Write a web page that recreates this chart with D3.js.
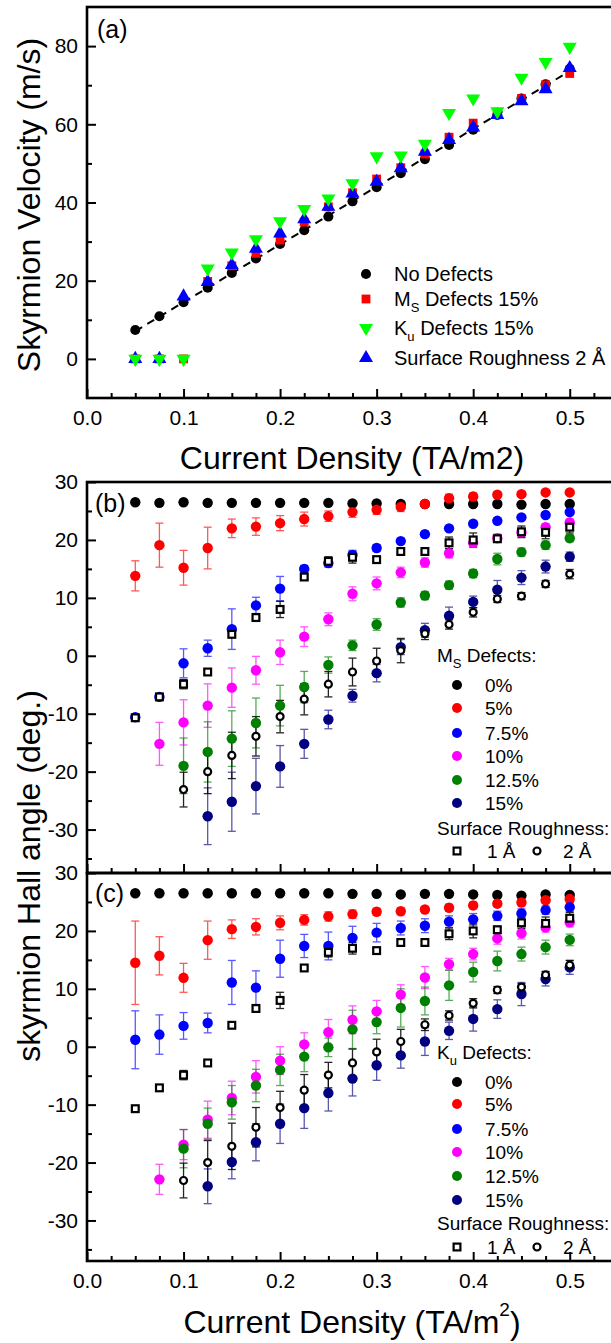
<!DOCTYPE html>
<html><head><meta charset="utf-8">
<script src="https://cdn.jsdelivr.net/npm/d3@7"></script>
<style>
body{margin:0;background:#fff;}
svg{display:block;}
text{font-family: Arial, "Liberation Sans", sans-serif; fill:#000;}
</style>
</head><body>
<svg id="chart" width="611" height="1343"></svg>
<script>
// ---------------- DATA ----------------
const currentDensity = [0.05,0.075,0.1,0.125,0.15,0.175,0.2,0.225,0.25,0.275,0.3,0.325,0.35,0.375,0.4,0.425,0.45,0.475,0.5];

// Panel (a): skyrmion velocity (m/s)
const velNoDefects = [7.4,10.9,14.5,18.2,22.0,25.7,29.4,32.9,36.4,40.3,43.9,47.5,51.1,54.7,58.6,62.4,66.6,70.2,74.2];
const velMsDefects = [0,0,0,19.8,23.8,27.0,30.4,35.0,38.9,42.5,46.0,48.9,52.4,56.7,60.3,62.7,66.6,70.1,73.0];
const velKuDefects = [0,0,0,23.1,27.2,30.6,35.2,38.3,41.0,44.9,51.8,52.0,55.0,62.9,66.6,63.3,71.9,75.9,79.8];
const velRough2A  = [0,0,16.0,19.7,24.0,28.2,32.1,35.7,38.9,42.3,45.3,48.8,53.0,56.0,59.2,62.4,65.9,69.0,74.4];
const fitCurrent = [0.05,0.5];
const fitVelocity = [7.1,73.6];

// Panel (b): Hall angle (deg.) vs Ms defects
const bMs0   = [26.5,26.4,26.5,26.4,26.4,26.4,26.4,26.4,26.4,26.3,26.3,26.2,26.2,26.2,26.2,26.2,26.1,26.2,26.2];
const bMs5   = [13.8,19.1,15.2,18.6,22.0,22.3,22.9,23.6,24.1,24.8,25.2,25.7,26.2,27.2,27.5,27.8,27.9,28.2,28.2];
const bMs75  = [-10.6,-7.1,-1.3,1.3,4.6,8.7,11.6,15.0,16.0,17.4,18.6,19.8,21.0,22.0,22.8,23.3,23.9,24.3,24.8];
const bMs10  = [null,-15.2,-11.5,-8.6,-5.5,-2.5,0.6,3.3,6.3,10.7,12.5,14.4,16.1,17.7,19.5,20.3,21.3,22.2,23.0];
const bMs125 = [null,null,-19.0,-16.6,-14.3,-11.6,-8.6,-5.4,-1.6,1.8,5.4,9.2,10.4,12.2,14.2,16.7,17.9,19.1,20.3];
const bMs15  = [null,null,null,-27.7,-25.2,-22.5,-19.1,-15.2,-11.0,-6.9,-3.0,1.5,4.4,6.9,9.3,11.4,13.5,15.4,17.1];
const bMs0Err   = [0.2,0.2,0.2,0.2,0.2,0.2,0.2,0.2,0.2,0.2,0.2,0.3,0.3,0.3,0.3,0.3,0.3,0.3,0.3];
const bMs5Err   = [2.6,3.8,3.0,3.6,1.6,1.5,1.3,1.2,0.9,0.9,0.8,0.8,0.5,0.7,0.6,0.5,0.4,0.4,0.4];
const bMs75Err  = [0.4,0.5,2.5,1.4,3.5,1.4,2.1,0.6,0.7,0.8,0.6,0.5,0.5,0.4,0.4,0.4,0.4,0.4,0.4];
const bMs10Err  = [0,3.7,3.9,3.75,3.4,2.4,2.1,1.7,1.1,1.2,1.1,0.9,0.8,0.8,0.8,0.7,0.7,0.6,0.6];
const bMs125Err = [0,0,4.8,5.2,4.8,4.3,3.5,2.7,1.4,0.9,1.0,0.8,0.7,0.7,0.7,1.0,0.7,0.7,0.6];
const bMs15Err  = [0,0,0,4.9,5.1,4.8,3.6,2.5,1.6,1.1,1.5,1.3,1.2,1.5,1.0,1.6,1.2,1.1,0.8];

// Panel (c): Hall angle (deg.) vs Ku defects
const cKu0   = [26.5,26.5,26.5,26.5,26.5,26.5,26.5,26.5,26.5,26.4,26.4,26.3,26.4,26.4,26.3,26.2,26.1,26.3,26.2];
const cKu5   = [14.5,15.7,11.9,18.4,20.3,20.7,21.4,21.9,22.5,22.9,23.3,23.4,23.7,24.0,24.4,24.7,24.9,25.3,25.5];
const cKu75  = [1.2,2.1,3.6,4.1,11.1,10.2,15.2,17.4,17.4,18.8,19.7,20.5,20.9,21.6,22.0,22.6,23.0,23.6,24.1];
const cKu10  = [null,-22.9,-16.9,-12.6,-8.85,-5.2,-2.4,0.4,2.5,4.65,6.1,9.0,11.95,14.25,16.0,18.7,19.6,20.6,21.5];
const cKu125 = [null,null,-17.6,-13.3,-9.6,-6.7,-4.0,-1.7,-0.1,3.0,4.25,6.7,7.9,10.6,12.9,14.8,16.0,17.2,18.45];
const cKu15  = [null,null,null,-24.1,-19.9,-16.5,-13.3,-10.6,-8.0,-5.5,-3.2,-1.5,0.9,2.75,4.8,6.5,9.1,11.7,13.7];
const cKu0Err   = [0.2,0.2,0.2,0.2,0.2,0.2,0.2,0.2,0.2,0.2,0.2,0.3,0.3,0.3,0.3,0.3,0.3,0.3,0.3];
const cKu5Err   = [7.2,3.3,2.5,3.3,1.6,1.4,1.2,0.9,0.8,0.7,0.6,0.6,0.5,0.6,0.6,0.5,0.5,0.5,0.5];
const cKu75Err  = [5.0,3.4,2.3,1.7,3.8,2.9,3.2,2.0,2.4,2.0,1.6,1.2,1.2,1.0,1.0,0.8,0.8,0.7,0.7];
const cKu10Err  = [0,2.6,2.6,3.2,2.9,2.8,2.4,2.0,2.2,2.4,1.9,1.7,1.9,1.0,1.0,1.0,1.0,0.8,0.8];
const cKu125Err = [0,0,3.3,2.7,2.9,2.8,2.7,2.6,1.6,3.3,2.0,3.3,2.4,2.6,1.7,1.7,1.2,1.2,1.0];
const cKu15Err  = [0,0,0,3.0,2.9,3.2,3.4,3.5,3.1,3.0,2.6,2.2,2.4,1.5,2.1,1.6,2.0,1.2,1.2];

// Surface roughness (same in panels b and c)
const rough1A = [-10.7,-7.1,-4.9,-2.8,3.7,6.6,8.0,13.6,16.3,17.0,16.6,18.0,18.0,19.5,20.0,20.2,21.4,21.3,22.2];
const rough1AErr = [0.3,0.3,0.8,0.3,0.4,0.3,1.4,0.3,0.8,1.0,0.3,0.5,0.3,1.0,1.2,0.6,1.0,1.1,1.0];
const rough2A = [null,null,-23.1,-20.0,-17.2,-13.9,-10.5,-7.5,-4.9,-2.8,-0.9,0.9,3.8,5.4,7.5,9.8,10.3,12.4,14.1];
const rough2AErr = [0,0,3.0,3.8,4.0,3.4,2.8,2.7,2.2,2.4,2.2,2.1,1.0,0.8,0.8,0.6,0.6,0.6,0.8];

const defectLabels = ['0%','5%','7.5%','10%','12.5%','15%'];
const defectColors = ['#000000','#ff0000','#0000ff','#ff00ff','#008000','#000080'];
const xMajorTicks = [0,0.1,0.2,0.3,0.4,0.5];
const xMinorTicks = [0.025,0.05,0.075,0.125,0.15,0.175,0.225,0.25,0.275,0.325,0.35,0.375,0.425,0.45,0.475,0.525,0.55];
const velMajorTicks = [0,20,40,60,80];
const velMinorTicks = [10,30,50,70];
const angleMajorTicks = [-30,-20,-10,0,10,20,30];
const angleMinorTicks = [-35,-25,-15,-5,5,15,25];

// ---------------- DRAWING ----------------
const svg = d3.select('#chart');
const x = d3.scaleLinear().domain([0,0.55]).range([87,618]);
const yA = d3.scaleLinear().domain([-10,90]).range([398,7]);
const yB = d3.scaleLinear().domain([-37.5,30]).range([873,482]);
const yC = d3.scaleLinear().domain([-37,30]).range([1261,873]);

function frame(y, showXLabels) {
  const g = svg.append('g');
  const [y0,y1] = y.range();
  const xl = x.range()[0], xr = x.range()[1];
  // axes ticks
  const left = d3.axisLeft(y).tickValues(y === yA ? velMajorTicks : angleMajorTicks)
      .tickSize(-9).tickSizeOuter(0).tickPadding(9).tickFormat(d => String(d));
  const leftMinor = d3.axisLeft(y).tickValues(y === yA ? velMinorTicks : angleMinorTicks)
      .tickSize(-5).tickSizeOuter(0).tickFormat('');
  const bottom = d3.axisBottom(x).tickValues(xMajorTicks).tickSize(-9).tickSizeOuter(0)
      .tickPadding(12).tickFormat(showXLabels ? d3.format('.1f') : '');
  const bottomMinor = d3.axisBottom(x).tickValues(xMinorTicks).tickSize(-5).tickSizeOuter(0).tickFormat('');
  [[left,`translate(${xl},0)`],[leftMinor,`translate(${xl},0)`],
   [bottom,`translate(0,${y0})`],[bottomMinor,`translate(0,${y0})`]].forEach(([ax,tr]) => {
    const a = g.append('g').attr('transform', tr).call(ax);
    a.select('.domain').remove();
    a.selectAll('line').attr('stroke','#000').attr('stroke-width',2);
    a.selectAll('text').attr('font-size',21).attr('font-family','Arial, "Liberation Sans", sans-serif').attr('fill','#000');
  });
  g.append('rect').attr('x',xl).attr('y',y1).attr('width',xr-xl).attr('height',y0-y1)
    .attr('fill','none').attr('stroke','#000').attr('stroke-width',2.6);
  return g;
}

function errorBars(g, y, vals, errs, color, opacity) {
  currentDensity.forEach((c,i) => {
    if (vals[i] == null || !errs[i]) return;
    const cx = x(c), top = y(vals[i]+errs[i]), bot = y(vals[i]-errs[i]);
    const eg = g.append('g').attr('stroke',color).attr('stroke-width',1.3).attr('opacity',opacity);
    eg.append('line').attr('x1',cx).attr('x2',cx).attr('y1',top).attr('y2',bot);
    eg.append('line').attr('x1',cx-4).attr('x2',cx+4).attr('y1',top).attr('y2',top);
    eg.append('line').attr('x1',cx-4).attr('x2',cx+4).attr('y1',bot).attr('y2',bot);
  });
}

function pts(vals){ return currentDensity.map((c,i)=>({c,v:vals[i]})).filter(d=>d.v!=null); }

function anglePanel(y, seriesVals, seriesErrs) {
  const g = svg.append('g');
  seriesVals.forEach((vals,k) => errorBars(g, y, vals, seriesErrs[k], defectColors[k], 0.65));
  errorBars(g, y, rough1A, rough1AErr, '#000', 0.85);
  errorBars(g, y, rough2A, rough2AErr, '#000', 0.85);
  seriesVals.forEach((vals,k) => {
    g.selectAll(null).data(pts(vals)).enter().append('circle')
      .attr('cx',d=>x(d.c)).attr('cy',d=>y(d.v)).attr('r',5.2).attr('fill',defectColors[k]);
  });
  g.selectAll(null).data(pts(rough1A)).enter().append('rect')
    .attr('x',d=>x(d.c)-3.4).attr('y',d=>y(d.v)-3.4).attr('width',6.8).attr('height',6.8)
    .attr('fill','#fff').attr('stroke','#000').attr('stroke-width',2.2);
  g.selectAll(null).data(pts(rough2A)).enter().append('circle')
    .attr('cx',d=>x(d.c)).attr('cy',d=>y(d.v)).attr('r',3.5)
    .attr('fill','#fff').attr('stroke','#000').attr('stroke-width',2.2);
}

function angleLegend(headerY, rowYs, srY, rowY, prefix, sub) {
  const g = svg.append('g').attr('font-size',19);
  const h = g.append('text').attr('x',437).attr('y',headerY).attr('dy','0.35em');
  h.append('tspan').text(prefix);
  h.append('tspan').attr('font-size',13).attr('dy','0.45em').text(sub);
  h.append('tspan').attr('dy','-0.3em').text(' Defects:');
  defectLabels.forEach((lab,k) => {
    g.append('circle').attr('cx',457).attr('cy',rowYs[k]).attr('r',5).attr('fill',defectColors[k]);
    g.append('text').attr('x',485).attr('y',rowYs[k]).attr('dy','0.35em').text(lab);
  });
  g.append('text').attr('x',437).attr('y',srY).attr('dy','0.35em').text('Surface Roughness:');
  g.append('rect').attr('x',457-3.4).attr('y',rowY-3.4).attr('width',6.8).attr('height',6.8)
    .attr('fill','#fff').attr('stroke','#000').attr('stroke-width',2.2);
  g.append('text').attr('x',487).attr('y',rowY).attr('dy','0.35em').text('1 Å');
  g.append('circle').attr('cx',537).attr('cy',rowY).attr('r',3.5)
    .attr('fill','#fff').attr('stroke','#000').attr('stroke-width',2.2);
  g.append('text').attr('x',563).attr('y',rowY).attr('dy','0.35em').text('2 Å');
}

// ---- Panel (a)
frame(yA, true);
const ga = svg.append('g');
ga.append('path').datum(fitCurrent.map((c,i)=>[c,fitVelocity[i]]))
  .attr('d', d3.line().x(d=>x(d[0])).y(d=>yA(d[1])))
  .attr('fill','none').attr('stroke','#000').attr('stroke-width',2).attr('stroke-dasharray','8,6');
const symCircle = d3.symbol().type(d3.symbolCircle).size(80)();
const symSquare = d3.symbol().type(d3.symbolSquare).size(78)();
const symTri = d3.symbol().type(d3.symbolTriangle).size(85)();
function scatterA(vals, path, color, rot) {
  ga.selectAll(null).data(pts(vals)).enter().append('path').attr('d',path).attr('fill',color)
    .attr('transform',d=>`translate(${x(d.c)},${yA(d.v)}) rotate(${rot})`);
}
scatterA(velNoDefects, symCircle, '#000', 0);
scatterA(velMsDefects, symSquare, '#ff0000', 0);
scatterA(velRough2A, symTri, '#0000ff', 0);
scatterA(velKuDefects, symTri, '#00ff00', 180);

const legA = svg.append('g').attr('font-size',20);
const legItems = [
  {y:274, path:symCircle, color:'#000', rot:0},
  {y:299, path:symSquare, color:'#ff0000', rot:0},
  {y:328, path:symTri, color:'#00ff00', rot:180},
  {y:358, path:symTri, color:'#0000ff', rot:0}
];
legItems.forEach(it => legA.append('path').attr('d',it.path).attr('fill',it.color)
  .attr('transform',`translate(366,${it.y}) rotate(${it.rot})`));
legA.append('text').attr('x',394).attr('y',274).attr('dy','0.35em').text('No Defects');
let t = legA.append('text').attr('x',394).attr('y',299).attr('dy','0.35em');
t.append('tspan').text('M'); t.append('tspan').attr('font-size',13).attr('dy','0.45em').text('S');
t.append('tspan').attr('dy','-0.3em').text(' Defects 15%');
t = legA.append('text').attr('x',394).attr('y',328).attr('dy','0.35em');
t.append('tspan').text('K'); t.append('tspan').attr('font-size',13).attr('dy','0.45em').text('u');
t.append('tspan').attr('dy','-0.3em').text(' Defects 15%');
legA.append('text').attr('x',394).attr('y',358).attr('dy','0.35em').text('Surface Roughness 2 Å');

svg.append('text').attr('x',97).attr('y',29).attr('dy','0.35em').attr('font-size',25).text('(a)');
svg.append('text').attr('transform','translate(40,205) rotate(-90)').attr('text-anchor','middle')
  .attr('font-size',32).text('Skyrmion Velocity (m/s)');
svg.append('text').attr('x',352).attr('y',469).attr('text-anchor','middle')
  .attr('font-size',32).text('Current Density (TA/m2)');

// ---- Panel (b)
frame(yB, false);
anglePanel(yB, [bMs0,bMs5,bMs75,bMs10,bMs125,bMs15], [bMs0Err,bMs5Err,bMs75Err,bMs10Err,bMs125Err,bMs15Err]);
angleLegend(655, [685,708,733,756,780,803], 828, 851, 'M', 'S');
svg.append('text').attr('x',95).attr('y',503).attr('dy','0.35em').attr('font-size',25).text('(b)');

// ---- Panel (c)
frame(yC, true);
anglePanel(yC, [cKu0,cKu5,cKu75,cKu10,cKu125,cKu15], [cKu0Err,cKu5Err,cKu75Err,cKu10Err,cKu125Err,cKu15Err]);
angleLegend(1052, [1082,1104,1129,1152,1176,1200], 1223, 1247, 'K', 'u');
svg.append('text').attr('x',95).attr('y',893).attr('dy','0.35em').attr('font-size',25).text('(c)');

svg.append('text').attr('transform','translate(40,876) rotate(-90)').attr('text-anchor','middle')
  .attr('font-size',32).text('skyrmion Hall angle (deg.)');
const xt = svg.append('text').attr('x',352).attr('y',1333).attr('text-anchor','middle').attr('font-size',32);
xt.append('tspan').text('Current Density (TA/m');
xt.append('tspan').attr('font-size',19).attr('dy','-0.9em').text('2');
xt.append('tspan').attr('dy','0.55em').text(')');
</script>
</body></html>
